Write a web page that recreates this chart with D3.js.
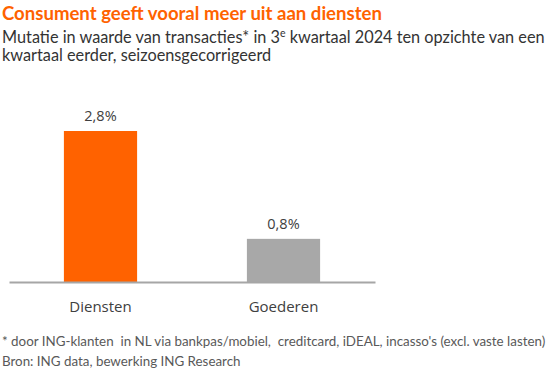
<!DOCTYPE html>
<html><head><meta charset="utf-8">
<script src="https://cdn.jsdelivr.net/npm/d3@7"></script>
<style>
html,body{margin:0;padding:0;background:#fff;}
svg{display:block;}
text{white-space:pre;}
</style></head>
<body>
<svg id="c" width="551" height="375"></svg>
<script>
const categories = ["Diensten", "Goederen"];
const values = [2.8, 0.8];
const valueLabels = ["2,8%", "0,8%"];
const colors = ["#FF6200", "#A8A8A8"];
const title = "Consument geeft vooral meer uit aan diensten";
const footnotes = ["* door ING-klanten  in NL via bankpas/mobiel,  creditcard, iDEAL, incasso's (excl. vaste lasten)",
                   "Bron: ING data, bewerking ING Research"];

const svg = d3.select("#c");
const font = "Lato, 'Open Sans', sans-serif";

function fit(sel, target) {
  const node = sel.node();
  let fs = parseFloat(sel.attr("font-size"));
  for (let i = 0; i < 4; i++) {
    const w = node.getComputedTextLength();
    if (!w) break;
    fs = fs * target / w;
    sel.attr("font-size", fs.toFixed(2));
  }
}

// Title
const t = svg.append("text").attr("x", 2).attr("y", 20)
  .attr("font-family", font).attr("font-weight", 700).attr("font-size", 17)
  .attr("fill", "#FF6200").text(title);
fit(t, 380);

// Subtitle
const s1 = svg.append("text").attr("x", 2).attr("y", 43)
  .attr("font-family", font).attr("font-size", 15.5).attr("fill", "#333333");
s1.append("tspan").text("Mutatie in waarde van transacties* in 3");
s1.append("tspan").attr("font-size", "65%").attr("dy", -6).text("e");
s1.append("tspan").attr("dy", 6).text(" kwartaal 2024 ten opzichte van een");
fit(s1, 543);
const s2 = svg.append("text").attr("x", 2).attr("y", 61)
  .attr("font-family", font).attr("font-size", s1.attr("font-size")).attr("fill", "#333333")
  .text("kwartaal eerder, seizoensgecorrigeerd");

// Chart
const x = d3.scaleBand().domain(categories).range([9, 375]).paddingInner(0.6).paddingOuter(0.3);
const y = d3.scaleLinear().domain([0, 2.8]).range([282, 131]);

const g = svg.append("g");
g.selectAll("rect.bar").data(categories).join("rect").attr("class", "bar")
  .attr("x", d => x(d)).attr("width", x.bandwidth())
  .attr("y", (d, i) => y(values[i])).attr("height", (d, i) => y(0) - y(values[i]))
  .attr("fill", (d, i) => colors[i]);

g.selectAll("text.val").data(categories).join("text").attr("class", "val")
  .attr("x", d => x(d) + x.bandwidth() / 2)
  .attr("y", (d, i) => y(values[i]) - 10)
  .attr("text-anchor", "middle").attr("font-family", "'Open Sans', sans-serif")
  .attr("font-size", 14.5).attr("fill", "#404040")
  .text((d, i) => valueLabels[i]);

const axis = d3.axisBottom(x).tickSize(0).tickPadding(19);
const ag = svg.append("g").attr("transform", `translate(0,${y(0)})`).call(axis);
ag.select(".domain").attr("stroke", "#A6A6A6").attr("stroke-width", 2);
ag.selectAll(".tick text").attr("font-family", "'Open Sans', sans-serif")
  .attr("font-size", 15).attr("fill", "#404040");

// Footnotes
const f1 = svg.append("text").attr("x", 2).attr("y", 346)
  .attr("font-family", font).attr("font-size", 12.5).attr("fill", "#595959").text(footnotes[0]);
fit(f1, 543);
svg.append("text").attr("x", 2).attr("y", 366)
  .attr("font-family", font).attr("font-size", f1.attr("font-size")).attr("fill", "#595959").text(footnotes[1]);
</script>
</body></html>
